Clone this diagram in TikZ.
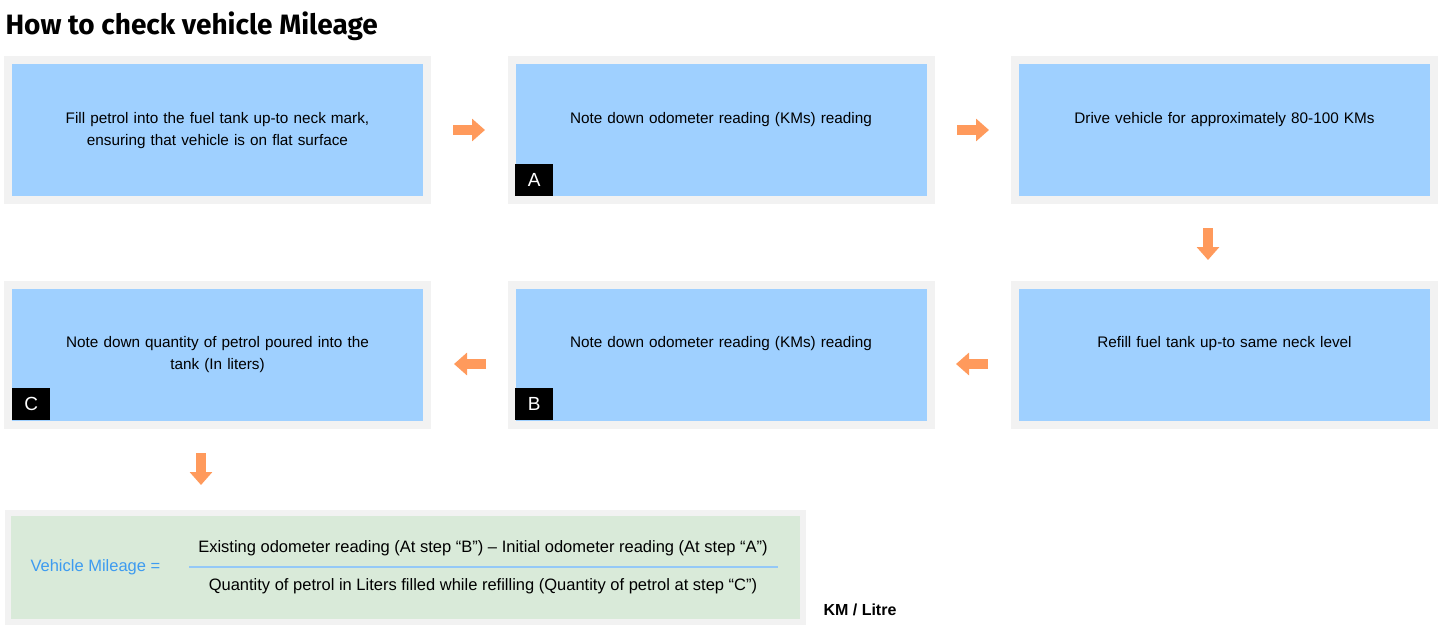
\documentclass[tikz,border=0pt]{standalone}
\usepackage{fontspec}
\setmainfont{Liberation Sans}
\newfontfamily\titlefont{Fira Sans}
\usetikzlibrary{arrows.meta}
\definecolor{boxblue}{HTML}{9FD0FF}
\definecolor{frame}{HTML}{F2F2F2}
\definecolor{arr}{HTML}{FF9A5C}
\definecolor{formgreen}{HTML}{D9EAD9}
\definecolor{mblue}{HTML}{3D9BF0}
\begin{document}
\begin{tikzpicture}[x=1pt,y=-1pt,
  stepbox/.style={fill=boxblue,draw=frame,line width=8pt,minimum width=419pt,minimum height=140pt,inner sep=0pt},
  steptext/.style={anchor=north,align=center,font=\fontsize{15.3}{22}\selectfont,text width=380pt,inner sep=0pt},
  badge/.style={fill=black,text=white,minimum width=38pt,minimum height=32pt,inner sep=0pt,font=\fontsize{19}{19}\selectfont},
  arw/.style={draw=arr,line width=10pt,-{Triangle[width=22pt,length=13pt]}},
  ftext/.style={font=\fontsize{16.5}{19}\selectfont}]
\useasboundingbox (0,0) rectangle (1438,627);
\node[anchor=west,font=\titlefont\bfseries\fontsize{28}{28}\selectfont] (title) at (2,26) {How to check vehicle Mileage};
\node[stepbox] (s1) at (217.5,130) {};
\node[stepbox] (s2) at (721,130) {};
\node[stepbox] (s3) at (1224.5,130) {};
\node[stepbox] (s4) at (1224.5,354.5) {};
\node[stepbox] (s5) at (721,354.5) {};
\node[stepbox] (s6) at (217.5,354.5) {};
\node[steptext] (t1) at ([yshift=18pt]s1.center) {Fill petrol into the fuel tank up-to neck mark,\\ensuring that vehicle is on flat surface};
\node[steptext] (t2) at ([yshift=18pt]s2.center) {Note down odometer reading (KMs) reading};
\node[steptext] (t3) at ([yshift=18pt]s3.center) {Drive vehicle for approximately 80-100 KMs};
\node[steptext] (t4) at ([yshift=18pt]s4.center) {Refill fuel tank up-to same neck level};
\node[steptext] (t5) at ([yshift=18pt]s5.center) {Note down odometer reading (KMs) reading};
\node[steptext] (t6) at ([yshift=18pt]s6.center) {Note down quantity of petrol poured into the\\tank (In liters)};
\node[badge,anchor=south west] (bA) at (515,196) {A};
\node[badge,anchor=south west] (bB) at (515,420) {B};
\node[badge,anchor=south west] (bC) at (12,420) {C};
\coordinate (p1) at (453,130); \coordinate (q1) at (485,130);
\coordinate (p2) at (957,130); \coordinate (q2) at (989,130);
\coordinate (p3) at (1208,228); \coordinate (q3) at (1208,260);
\coordinate (p4) at (988,364); \coordinate (q4) at (956,364);
\coordinate (p5) at (486,364); \coordinate (q5) at (454,364);
\coordinate (p6) at (201,453); \coordinate (q6) at (201,485);
\foreach \i in {1,...,6} \draw[arw] (p\i) -- (q\i);
\node[fill=formgreen,draw=frame,line width=6pt,minimum width=795pt,minimum height=109pt,inner sep=0pt] (f) at (405,567.5) {};
\node[anchor=west,text=mblue,ftext] (vm) at (27,567) {Vehicle Mileage =};
\node[ftext] (num) at (483,548) {Existing odometer reading (At step “B”) – Initial odometer reading (At step “A”)};
\node[ftext] (den) at (483,586) {Quantity of petrol in Liters filled while refilling (Quantity of petrol at step “C”)};
\draw[mblue!55,line width=1.2pt] (189,567) -- (778,567);
\node[anchor=west,font=\bfseries\fontsize{16}{18}\selectfont] (km) at (820,610) {KM / Litre};
\end{tikzpicture}
\end{document}
